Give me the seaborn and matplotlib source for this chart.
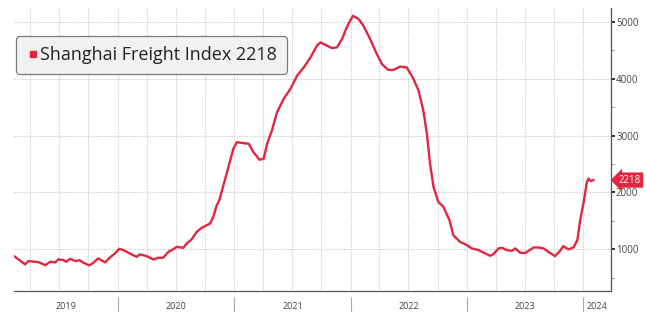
import pandas as pd
import seaborn as sns
import matplotlib.pyplot as plt
import matplotlib.dates as mdates
from matplotlib.lines import Line2D

dates = [
    "2019-02-10", "2019-03-17", "2019-03-27", "2019-04-28", "2019-05-19", "2019-06-04",
    "2019-06-19", "2019-06-29", "2019-07-15", "2019-07-23", "2019-08-05", "2019-08-21",
    "2019-09-03", "2019-09-16", "2019-10-04", "2019-10-17", "2019-11-01", "2019-11-23",
    "2019-12-08", "2019-12-24", "2020-01-06", "2020-01-19", "2020-02-14", "2020-03-01",
    "2020-03-11", "2020-04-01", "2020-04-22", "2020-05-08", "2020-05-23", "2020-06-08",
    "2020-06-24", "2020-07-04", "2020-07-25", "2020-08-05", "2020-08-20", "2020-09-05",
    "2020-09-21", "2020-10-17", "2020-10-27", "2020-11-07", "2020-11-15", "2020-12-08",
    "2020-12-29", "2021-01-09", "2021-01-30", "2021-02-15", "2021-03-02", "2021-03-21",
    "2021-04-03", "2021-04-14", "2021-04-29", "2021-05-15", "2021-06-05", "2021-06-26",
    "2021-07-17", "2021-08-07", "2021-08-28", "2021-09-17", "2021-09-28", "2021-10-13",
    "2021-11-03", "2021-11-19", "2021-12-05", "2021-12-15", "2021-12-25", "2022-01-08",
    "2022-01-26", "2022-02-10", "2022-03-03", "2022-03-24", "2022-04-09", "2022-04-29",
    "2022-05-15", "2022-06-05", "2022-06-26", "2022-07-17", "2022-08-02", "2022-08-17",
    "2022-08-28", "2022-09-07", "2022-09-18", "2022-10-03", "2022-10-19", "2022-11-07",
    "2022-11-19", "2022-12-10", "2023-01-01", "2023-01-16", "2023-02-06", "2023-02-27",
    "2023-03-15", "2023-03-25", "2023-04-10", "2023-04-21", "2023-05-06", "2023-05-22",
    "2023-06-01", "2023-06-17", "2023-07-03", "2023-07-13", "2023-07-29", "2023-08-13",
    "2023-08-29", "2023-09-13", "2023-10-04", "2023-10-20", "2023-10-30", "2023-11-15",
    "2023-12-01", "2023-12-13", "2023-12-22", "2024-01-01", "2024-01-12", "2024-01-17",
    "2024-01-24", "2024-02-02",
]
index_values = [
    883, 737, 795, 777, 725, 783,
    772, 825, 813, 783, 835, 795,
    813, 765, 720, 765, 842, 772,
    860, 930, 1010, 988, 912, 870,
    912, 883, 825, 853, 853, 958,
    1005, 1045, 1028, 1105, 1175, 1308,
    1380, 1455, 1571, 1776, 1863, 2331,
    2769, 2884, 2867, 2856, 2709, 2576,
    2593, 2856, 3089, 3410, 3644, 3819,
    4052, 4197, 4372, 4577, 4635, 4595,
    4537, 4548, 4695, 4840, 4957, 5103,
    5045, 4927, 4695, 4432, 4257, 4152,
    4152, 4210, 4197, 3994, 3789, 3439,
    3031, 2506, 2096, 1834, 1746, 1513,
    1250, 1133, 1075, 1018, 988, 930,
    888, 918, 1018, 1028, 988, 975,
    1018, 940, 940, 975, 1035, 1035,
    1018, 958, 883, 975, 1058, 1000,
    1035, 1163, 1513, 1805, 2184, 2243,
    2201, 2218,
]
last_value = "2218"
series_name = "Shanghai Freight Index"
years = ["2019", "2020", "2021", "2022", "2023", "2024"]
y_ticks = [1000, 2000, 3000, 4000, 5000]

red = "#e4253f"
grid_col = "#c4c4c4"

df = pd.DataFrame({"date": pd.to_datetime(dates), "value": index_values})

sns.set_style("white")
plt.rcParams["font.family"] = ["Open Sans", "DejaVu Sans"]

fig = plt.figure(figsize=(6.46, 3.12), dpi=100)
ax = fig.add_axes([14 / 646, 21 / 312, (610.5 - 14) / 646, (291 - 8) / 312])

sns.lineplot(data=df, x="date", y="value", color=red, linewidth=1.7, ax=ax, legend=False)

x0 = pd.Timestamp("2019-02-10")
x1 = pd.Timestamp("2024-03-26")
ax.set_xlim(x0, x1)
ax.set_ylim(270, 5240)

# y axis on the right
ax.yaxis.tick_right()
ax.set_yticks(y_ticks)
ax.set_yticklabels([str(v) for v in y_ticks])
ax.set_yticks([500, 1500, 2500, 3500, 4500], minor=True)
ax.tick_params(axis="y", which="major", length=3, width=1.4, color="#333333",
               labelsize=7, labelcolor="#444444", pad=1)
ax.tick_params(axis="y", which="minor", length=2, width=0.6, color="#777777")

# x axis: quarterly grid, monthly ticks, year labels centred
ax.xaxis.set_major_locator(mdates.MonthLocator(bymonth=[1, 4, 7, 10]))
ax.xaxis.set_minor_locator(mdates.MonthLocator())
ax.xaxis.set_major_formatter(plt.NullFormatter())
ax.tick_params(axis="x", which="both", length=2.5, width=0.7, color="#666666")

ax.grid(True, which="major", axis="both", linestyle=(0, (1, 1.3)), color=grid_col, linewidth=0.8)
ax.set_xlabel("")
ax.set_ylabel("")

for s in ["top", "left"]:
    ax.spines[s].set_visible(False)
ax.spines["right"].set_color("#555555")
ax.spines["bottom"].set_color("#555555")
ax.spines["right"].set_linewidth(0.9)
ax.spines["bottom"].set_linewidth(0.9)

xtrans = ax.get_xaxis_transform()
starts = [pd.Timestamp(f"{y}-01-01") for y in years]
bounds = [x0] + starts[1:] + [x1]
for i, y in enumerate(years):
    mid = bounds[i] + (bounds[i + 1] - bounds[i]) / 2
    ax.text(mid, -0.055, y, transform=xtrans, ha="center", va="center",
            fontsize=6.5, color="#444444")
ax.vlines(starts[1:], -0.02, -0.074, transform=xtrans, colors="#aaaaaa",
          linewidth=0.8, clip_on=False)

# last value tag
ax.text(1.014, int(last_value), last_value, transform=ax.get_yaxis_transform(),
        ha="left", va="center", fontsize=7, color="white",
        bbox=dict(boxstyle="larrow,pad=0.22", fc=red, ec="none"))

handle = Line2D([], [], marker="s", linestyle="none", color=red, markersize=5)
leg = ax.legend([handle], [f"{series_name} {last_value}"], loc="upper left",
                bbox_to_anchor=(0.003, 0.901), borderaxespad=0, frameon=True,
                fancybox=True, handletextpad=0.0, handlelength=0.8,
                borderpad=0.55, fontsize=13, labelcolor="#222222")
leg.get_frame().set_facecolor("#f1f1f1")
leg.get_frame().set_edgecolor("#7a7a7a")
leg.get_frame().set_linewidth(0.9)
leg.get_frame().set_alpha(1)

fig.savefig("out.png", dpi=100, facecolor="white")
